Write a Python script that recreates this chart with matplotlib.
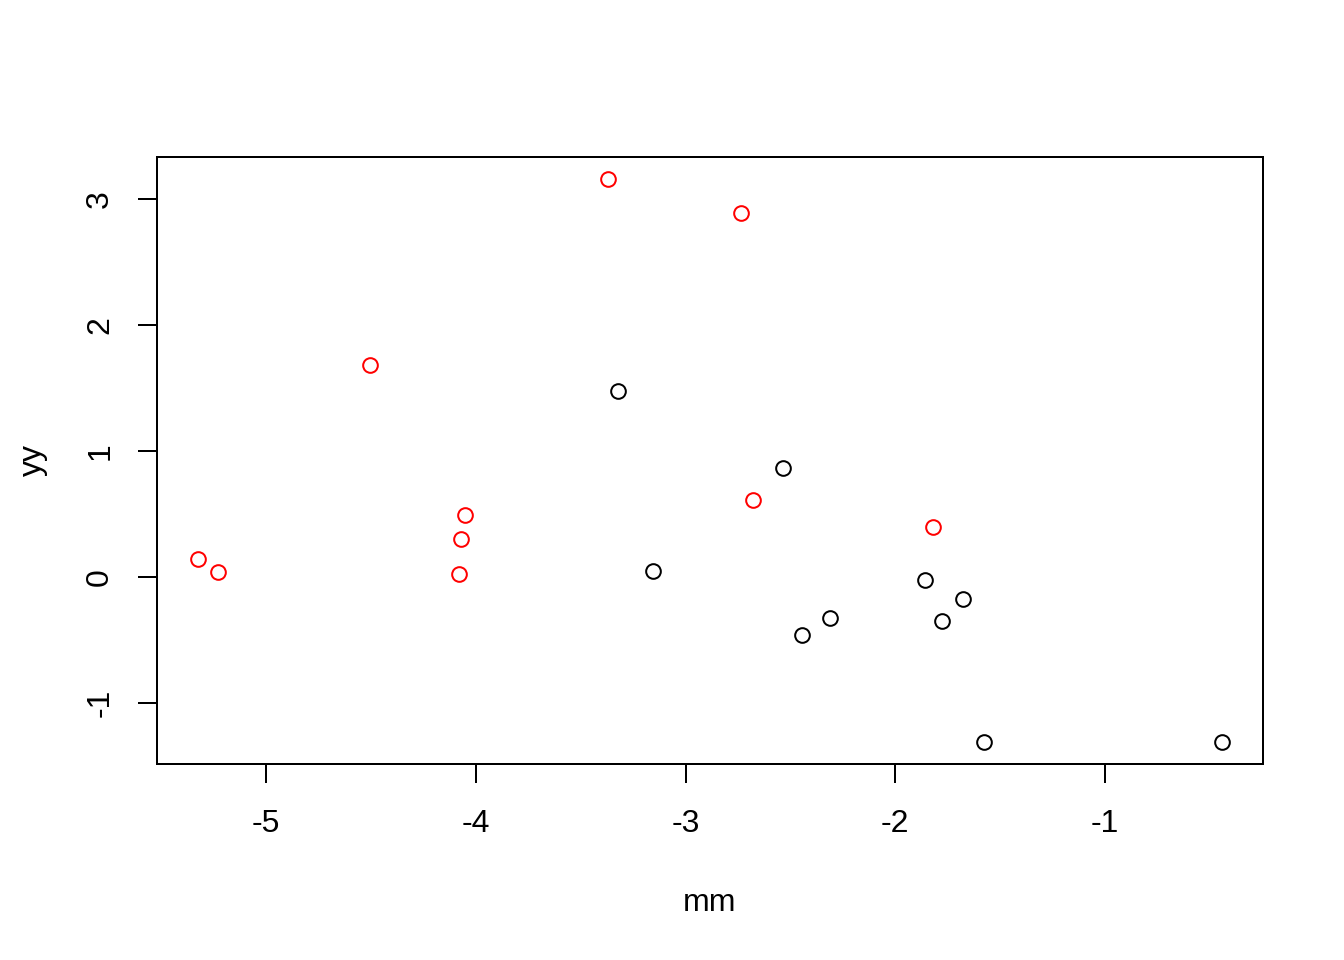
import matplotlib
matplotlib.use('Agg')
import matplotlib.pyplot as plt

plt.rcParams['font.family'] = ['Liberation Sans', 'DejaVu Sans']
plt.rcParams['axes.unicode_minus'] = False

# points
red_x = [-5.324, -5.229, -4.504, -4.051, -4.071, -4.080, -3.370, -2.736, -2.679, -1.821]
red_y = [0.143, 0.040, 1.686, 0.493, 0.302, 0.024, 3.157, 2.887, 0.612, 0.398]
blk_x = [-3.322, -3.155, -2.536, -2.445, -2.312, -1.859, -1.678, -1.778, -1.578, -0.443]
blk_y = [1.479, 0.048, 0.867, -0.461, -0.326, -0.024, -0.175, -0.350, -1.304, -1.304]

x_ticks = [-5, -4, -3, -2, -1]
y_ticks = [-1, 0, 1, 2, 3]

fig = plt.figure(figsize=(7, 5), dpi=192)
ax = fig.add_axes([157/1344, 1 - 764/960, (1263 - 157)/1344, (764 - 157)/960])

ax.plot(blk_x, blk_y, 'o', mfc='none', mec='black', ms=5.5, mew=0.75)
ax.plot(red_x, red_y, 'o', mfc='none', mec='red', ms=5.5, mew=0.75)

# R style 4% padding
all_x = red_x + blk_x
all_y = red_y + blk_y
dx = (max(all_x) - min(all_x)) * 0.04
dy = (max(all_y) - min(all_y)) * 0.04
ax.set_xlim(min(all_x) - dx, max(all_x) + dx)
ax.set_ylim(min(all_y) - dy, max(all_y) + dy)

ax.set_xticks(x_ticks)
ax.set_yticks(y_ticks)
ax.set_yticklabels([str(v) for v in y_ticks], rotation=90, va='center')
ax.tick_params(direction='out', length=7.2, width=0.75, labelsize=12)
ax.tick_params(axis='x', pad=9.5)
ax.tick_params(axis='y', pad=8.5)
for sp in ax.spines.values():
  sp.set_linewidth(0.75)

ax.set_xlabel('mm', fontsize=12, labelpad=18.5)
ax.set_ylabel('yy', fontsize=12, labelpad=14)

fig.savefig('out.png', dpi=192)
